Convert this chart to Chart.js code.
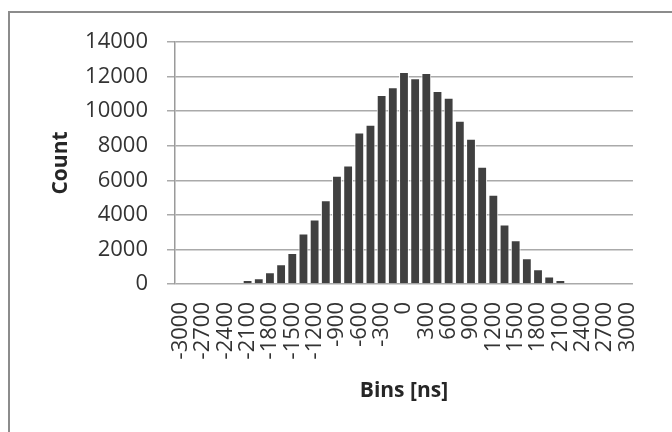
<!DOCTYPE html>
<html>
<head>
<meta charset="utf-8">
<script src="https://cdn.jsdelivr.net/npm/chart.js@4"></script>
<style>
    html, body {
        margin: 0;
        padding: 0;
        background: #ffffff;
    }
    #frame {
        position: absolute;
        left: 8px;
        top: 11px;
        width: 700px;
        height: 460px;
        border: 2px solid #8c8c8c;
        box-sizing: border-box;
    }
    #wrap {
        position: absolute;
        left: 0;
        top: 0;
        width: 672px;
        height: 432px;
    }
</style>
</head>
<body>
<div id="frame"></div>
<div id="wrap"><canvas id="histChart"></canvas></div>
<script>
const bins = [
    "-3000", "-2850", "-2700", "-2550", "-2400", "-2250", "-2100", "-1950", "-1800", "-1650",
    "-1500", "-1350", "-1200", "-1050", "-900", "-750", "-600", "-450", "-300", "-150",
    "0", "150", "300", "450", "600", "750", "900", "1050", "1200", "1350",
    "1500", "1650", "1800", "1950", "2100", "2250", "2400", "2550", "2700", "2850", "3000"
];

const counts = [
    0, 0, 0, 0, 0, 0, 230, 330, 680, 1140,
    1800, 2920, 3730, 4850, 6260, 6860, 8770, 9220, 10940, 11380,
    12270, 11900, 12210, 11170, 10780, 9450, 8400, 6780, 5160, 3440,
    2530, 1490, 850, 440, 230, 0, 0, 0, 0, 0, 0
];

const yTicks = [0, 2000, 4000, 6000, 8000, 10000, 12000, 14000];

document.addEventListener(
    "DOMContentLoaded",
    () => {

        const canvas =
            document.getElementById("histChart");

        const font = "'Open Sans', 'DejaVu Sans', sans-serif";

        new Chart(
            canvas,
            {
                type: "bar",
                data: {
                    labels: bins,
                    datasets: [
                        {
                            label: "Count",
                            data: counts,
                            backgroundColor: "#404040",
                            borderColor: "#ffffff",
                            borderWidth: 1,
                            barPercentage: 0.88,
                            categoryPercentage: 1
                        }
                    ]
                },
                options: {
                    responsive: true,
                    maintainAspectRatio: false,
                    animation: false,
                    layout: {
                        padding: { left: 36, right: 18, top: 42, bottom: 18 }
                    },
                    plugins: {
                        legend: { display: false },
                        tooltip: { enabled: false }
                    },
                    scales: {
                        x: {
                            grid: { display: false, drawTicks: false },
                            border: { display: false },
                            ticks: {
                                autoSkip: false,
                                maxRotation: 90,
                                minRotation: 90,
                                padding: 18,
                                color: "#333333",
                                font: { family: font, size: 22 },
                                callback: (v, i) => (i % 2 === 0 ? bins[i] : "")
                            },
                            title: {
                                display: true,
                                text: "Bins [ns]",
                                color: "#262626",
                                font: { family: font, size: 21, weight: "bold" },
                                padding: { top: 4, bottom: 10 }
                            },
                            afterFit: s => { s.height = 130; }
                        },
                        y: {
                            min: 0,
                            max: 14000,
                            afterBuildTicks: s => {
                                s.ticks = yTicks.map(v => ({ value: v }));
                            },
                            grid: {
                                color: "#aaaaaa",
                                lineWidth: 1.5,
                                tickLength: 8,
                                tickColor: "#aaaaaa"
                            },
                            border: { display: true, color: "#9a9a9a", width: 1.5 },
                            ticks: {
                                padding: 19,
                                color: "#333333",
                                font: { family: font, size: 22 },
                                callback: v => String(v)
                            },
                            title: {
                                display: true,
                                text: "Count",
                                color: "#262626",
                                font: { family: font, size: 21, weight: "bold" },
                                padding: { top: 12, bottom: 0 }
                            },
                            afterFit: s => { s.width = 139; }
                        }
                    }
                }
            }
        );
    }
);
</script>
</body>
</html>
